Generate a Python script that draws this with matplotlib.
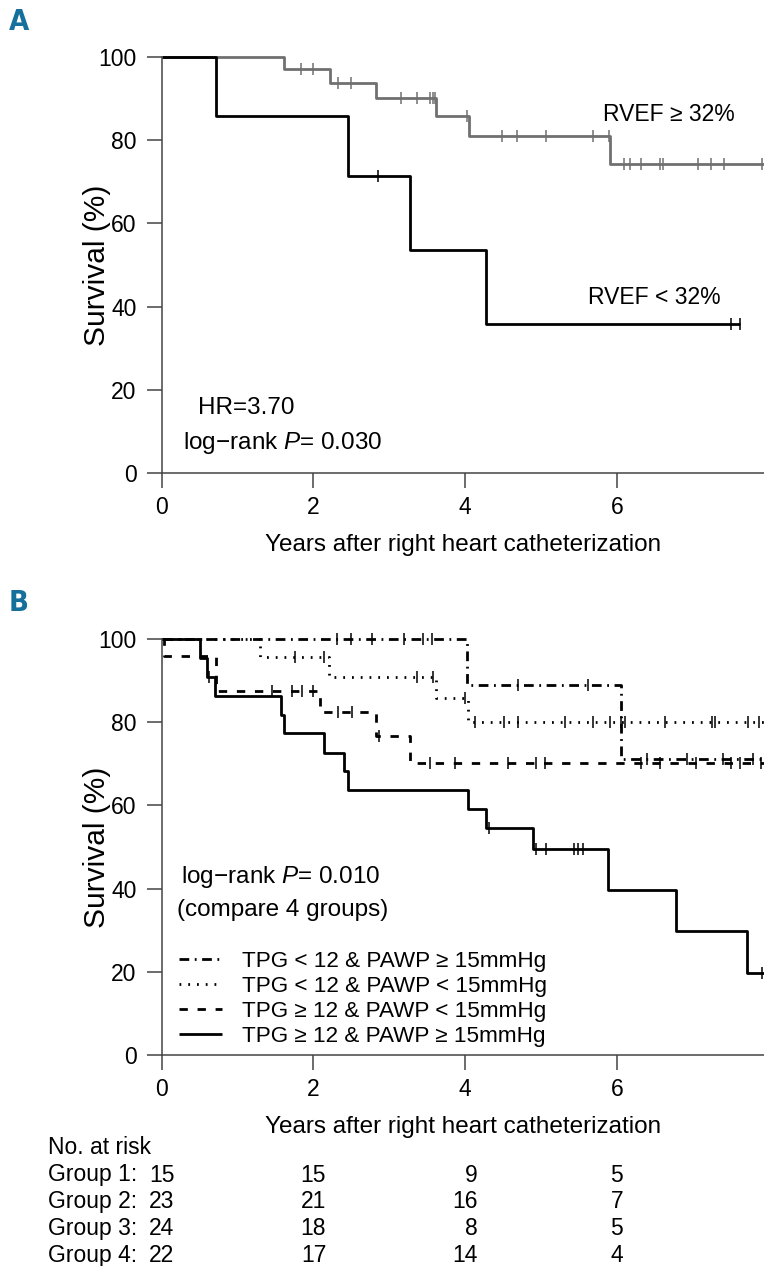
import numpy as np
import matplotlib
matplotlib.use("Agg")
import matplotlib.pyplot as plt
from matplotlib import transforms

plt.rcParams['font.family'] = ['Liberation Sans', 'DejaVu Sans']
plt.rcParams['mathtext.fontset'] = 'custom'
plt.rcParams['mathtext.rm'] = 'Liberation Sans'
plt.rcParams['mathtext.it'] = 'Liberation Sans:italic'
plt.rcParams['lines.scale_dashes'] = False

# ---- panel A data (RVEF groups) ----
low_t = [0, 0.71, 2.46, 3.27, 4.28]
low_s = [100, 85.7, 71.4, 53.6, 35.7]
low_end = 7.63
low_cens = [2.85, 7.50, 7.63]

high_t = [0, 1.61, 2.22, 2.82, 3.62, 4.05, 5.91]
high_s = [100, 97.0, 93.7, 90.2, 85.7, 80.9, 74.3]
high_end = 7.94
high_cens = [1.83, 2.00, 2.32, 2.50, 3.15, 3.36, 3.54, 3.57, 3.60, 4.02,
             4.49, 4.69, 5.07, 5.68, 5.90, 6.10, 6.18, 6.32, 6.57, 6.61,
             7.07, 7.24, 7.41, 7.91]

# ---- panel B data (TPG / PAWP groups) ----
g1_t = [0, 4.03, 6.06]
g1_s = [100, 88.9, 71.1]
g1_cens = [2.31, 2.49, 2.77, 3.19, 3.45, 3.56, 4.70, 5.62, 6.40, 6.92, 7.40, 7.80]

g2_t = [0, 1.30, 2.20, 3.62, 4.04]
g2_s = [100, 95.7, 90.9, 85.7, 80.0]
g2_cens = [1.76, 2.14, 3.36, 3.58, 4.00, 4.13, 4.51, 4.70, 5.32, 5.69, 5.91,
           6.06, 6.11, 6.63, 7.25, 7.29, 7.73, 7.88]

g3_t = [0, 0.03, 0.72, 2.09, 2.82, 3.27]
g3_s = [100, 95.8, 87.5, 82.4, 76.6, 70.2]
g3_cens = [1.46, 1.72, 1.85, 2.00, 2.33, 2.51, 2.86, 3.54, 3.86, 4.57, 4.94,
           5.05, 6.32, 6.57, 7.05, 7.51, 7.62, 7.90]

g4_t = [0, 0.51, 0.60, 0.70, 1.57, 1.61, 2.14, 2.40, 2.46, 4.04, 4.28, 4.90,
        5.89, 6.78, 7.72]
g4_s = [100, 95.5, 90.9, 86.4, 81.8, 77.3, 72.7, 68.2, 63.6, 59.1, 54.5, 49.6,
        39.7, 29.8, 19.8]
g4_cens = [0.62, 4.32, 4.93, 5.07, 5.43, 5.49, 5.56, 7.91]

group_labels = ['TPG < 12 & PAWP \u2265 15mmHg', 'TPG < 12 & PAWP < 15mmHg',
                'TPG \u2265 12 & PAWP < 15mmHg', 'TPG \u2265 12 & PAWP \u2265 15mmHg']
risk_times = [0, 2, 4, 6]
risk_g1 = [15, 15, 9, 5]
risk_g2 = [23, 21, 16, 7]
risk_g3 = [24, 18, 8, 5]
risk_g4 = [22, 17, 14, 4]

XMAX = 7.94
FS = 16.5     # tick labels, table
FT = 17.5     # annotations / xlabel
W, H = 764, 1266


def km(ax, t, s, end, cens, color, ls, lw=2.0, label=None):
    t = np.asarray(t, float)
    s = np.asarray(s, float)
    ln, = ax.step(np.append(t, end), np.append(s, s[-1]), where='post',
                  color=color, ls=ls, lw=lw, clip_on=False, label=label,
                  solid_capstyle='butt', dash_capstyle='butt')
    c = np.asarray(cens, float)
    cy = s[np.searchsorted(t, c, side='right') - 1]
    ax.plot(c, cy, ls='none', marker='|', ms=8.5, mew=1.1, color=color,
            clip_on=False)
    return ln


def style(ax):
    ax.set_xlim(0, XMAX)
    ax.set_ylim(0, 100)
    for side in ['top', 'right']:
        ax.spines[side].set_visible(False)
    for side in ['left', 'bottom']:
        ax.spines[side].set_color('#444444')
        ax.spines[side].set_linewidth(1.1)
    ax.set_xticks([0, 2, 4, 6])
    ax.set_yticks([0, 20, 40, 60, 80, 100])
    ax.tick_params(direction='out', length=10.5, width=1.1, color='#444444',
                   labelsize=FS)
    ax.tick_params(axis='x', pad=6)
    ax.tick_params(axis='y', pad=7.5)
    ax.set_xlabel('Years after right heart catheterization', fontsize=FT,
                  labelpad=11)
    ax.set_ylabel('Survival (%)', fontsize=21.5, va='center')
    ax.yaxis.set_label_coords(-0.108, 0.5)


fig = plt.figure(figsize=(W / 100, H / 100), dpi=100)
x0 = 161.7 / W
axA = fig.add_axes([x0, (H - 473) / H, 1 - x0, 416 / H])
axB = fig.add_axes([x0, (H - 1055) / H, 1 - x0, 416 / H])

# panel A
km(axA, high_t, high_s, XMAX, high_cens, '#707070', '-', lw=2.0)
km(axA, low_t, low_s, low_end, low_cens, 'black', '-', lw=2.0)
style(axA)
axA.text(5.82, 86.1, 'RVEF \u2265 32%', fontsize=FS, va='center')
axA.text(5.62, 42.1, 'RVEF < 32%', fontsize=FS, va='center')
axA.text(0.48, 15.6, 'HR=3.70', fontsize=FT, va='center')
axA.text(0.28, 7.2, 'log\u2212rank $P$= 0.030', fontsize=FT, va='center')

# panel B
l1 = km(axB, g1_t, g1_s, XMAX, g1_cens, 'black', (0, (7, 4, 1.3, 4)), label=group_labels[0])
l2 = km(axB, g2_t, g2_s, XMAX, g2_cens, 'black', (0, (1.3, 5)), label=group_labels[1])
l3 = km(axB, g3_t, g3_s, XMAX, g3_cens, 'black', (0, (6, 7)), label=group_labels[2])
l4 = km(axB, g4_t, g4_s, XMAX, g4_cens, 'black', '-', label=group_labels[3])
style(axB)
axB.text(0.25, 42.8, 'log\u2212rank $P$= 0.010', fontsize=FT, va='center')
axB.text(0.20, 34.9, '(compare 4 groups)', fontsize=FT, va='center')
axB.legend(handles=[l1, l2, l3, l4], loc='lower left',
           bbox_to_anchor=(0.029, 0.02), frameon=False, fontsize=16.2,
           handlelength=1.9, handletextpad=0.9, labelspacing=0.18,
           borderpad=0, borderaxespad=0)

# panel letters
for lab, ypix in [('A', 22), ('B', 603)]:
    fig.text(9 / W, 1 - ypix / H, lab, fontsize=21, fontweight='bold',
             fontstretch='condensed', color='#15709c', va='center', ha='left',
             family=['Liberation Sans Narrow', 'DejaVu Sans'])

# numbers at risk
tr = transforms.blended_transform_factory(axB.transData, fig.transFigure)
fig.text(48 / W, 1 - 1148 / H, 'No. at risk', fontsize=FS, va='center')
rows = [risk_g1, risk_g2, risk_g3, risk_g4]
for i, row in enumerate(rows):
    yf = 1 - (1175 + i * 26.7) / H
    fig.text(48 / W, yf, 'Group %d:' % (i + 1), fontsize=FS, va='center')
    for j, (t, n) in enumerate(zip(risk_times, row)):
        w = max(len(str(r[j])) for r in rows)
        off = w * 0.556 * FS / 2
        axB.annotate(str(n), xy=(t, yf), xycoords=tr, xytext=(off, 0),
                     textcoords='offset points', ha='right', va='center',
                     fontsize=FS, annotation_clip=False)

fig.savefig('out.png', dpi=100)
